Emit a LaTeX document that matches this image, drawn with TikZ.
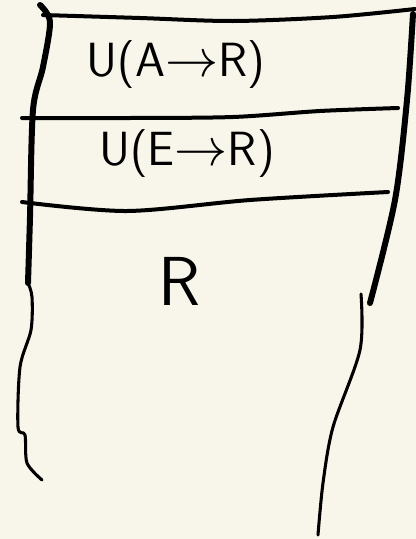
\documentclass[tikz,border=0pt]{standalone}
\usetikzlibrary{positioning}
\definecolor{paper}{HTML}{F8F6EA}
\newcommand{\fieldarrow}{\scalebox{1.6}{$\rightarrow$}}

\begin{document}
\begin{tikzpicture}[
  x=0.75pt,y=-0.75pt,
  pen/.style={line width=3pt,line cap=round,line join=round},
  thinpen/.style={line width=2.3pt,line cap=round,line join=round},
  heavypen/.style={line width=4.5pt,line cap=round,line join=round},
  field/.style={font=\sffamily\fontsize{36}{42}\selectfont},
]
  \fill[paper] (0,0) rectangle (416,539);
  \useasboundingbox (0,0) rectangle (416,539);

  % outline of the stack
  \draw[heavypen] plot[smooth] coordinates {(40,5) (50,22) (43,67) (33,110) (30,217) (28,283)};
  \draw[pen] plot[smooth] coordinates {(43,15) (140,18) (233,21) (333,17) (415,9)};
  \draw[heavypen] plot[smooth] coordinates {(413,14) (407,100) (395,200) (370,303)};
  \draw[thinpen] plot[smooth] coordinates {(28,283) (32,297) (31,330) (20,367) (18,427) (25,435) (27,463) (42,480)};
  \draw[thinpen] plot[smooth] coordinates {(361,294) (360,350) (333,427) (323,483) (318,535)};

  % dividers
  \draw[pen] plot[smooth] coordinates {(22,118) (130,118) (233,117) (320,111) (398,108)};
  \draw[pen] plot[smooth] coordinates {(22,202) (127,211) (250,200) (388,192)};

  % fields
  \node[field] (ar) at (176,65) {U(A\fieldarrow R)};
  \node[field] (er) at (187,154) {U(E\fieldarrow R)};
  \node[field,font=\sffamily\fontsize{52}{60}\selectfont] (r) at (180,281) {R};
\end{tikzpicture}
\end{document}
